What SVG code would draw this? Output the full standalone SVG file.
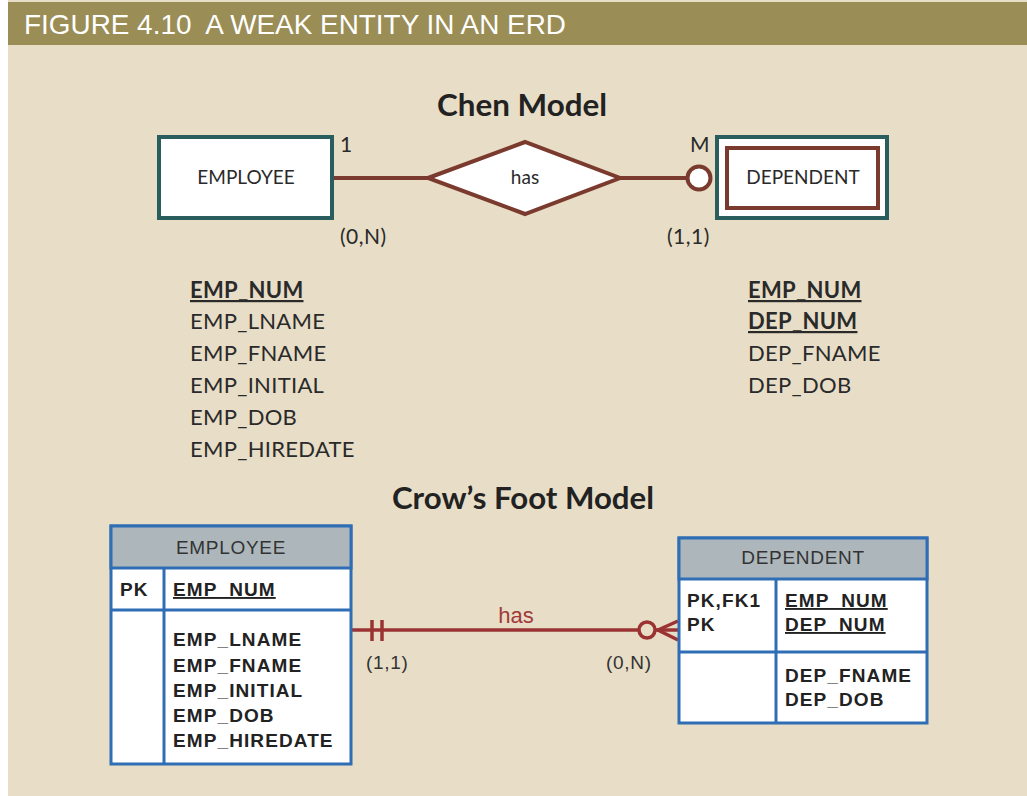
<svg xmlns="http://www.w3.org/2000/svg" width="1027" height="796" viewBox="0 0 1027 796">
<defs>
<style>
.chen{font-family:Lato,"Open Sans","Liberation Sans",sans-serif;fill:#2a2a2a}
.ttl{font-family:Lato,"Liberation Sans",sans-serif;font-weight:bold;fill:#222}
.att{font-family:Lato,"Liberation Sans",sans-serif;font-size:22px;fill:#2a2a2a;letter-spacing:0.3px}
.key{font-weight:bold;text-decoration:underline}
.cf{font-family:"Liberation Sans",Arial,sans-serif;font-weight:bold;font-size:19px;letter-spacing:1.1px;fill:#222}
.cfh{font-family:"Liberation Sans",Arial,sans-serif;font-size:19px;letter-spacing:0.7px;fill:#333}
.tbl{fill:#fff;stroke:#2f6db5;stroke-width:3}
.hdr{fill:#adb7bb;stroke:#2f6db5;stroke-width:3}
.bl{stroke:#2f6db5;stroke-width:3}
.rel{stroke:#7a3b2e;stroke-width:4;fill:none}
.crow{stroke:#9b3333;stroke-width:3.5;fill:none}
</style>
</defs>
<rect x="0" y="0" width="1027" height="796" fill="#ffffff"/>
<rect x="8" y="0" width="1019" height="796" fill="#e8ddc6"/>
<rect x="8" y="2" width="1019" height="43" fill="#9a8d56"/>
<text x="24" y="34" xml:space="preserve" font-family="'Liberation Sans',Arial,sans-serif" font-size="28" fill="#ffffff" textLength="542" lengthAdjust="spacingAndGlyphs">FIGURE 4.10  A WEAK ENTITY IN AN ERD</text>

<text class="ttl" x="522" y="116" font-size="30" text-anchor="middle" textLength="170" lengthAdjust="spacingAndGlyphs">Chen Model</text>

<g id="connectors">
<line class="rel" x1="332" y1="178" x2="430" y2="178"/>
<line class="rel" x1="620" y1="178" x2="687" y2="178"/>
<circle cx="699" cy="178" r="11.5" fill="#fff" stroke="#7a3b2e" stroke-width="4"/>
<line class="crow" x1="352" y1="630" x2="639" y2="630"/>
<line class="crow" x1="372" y1="620" x2="372" y2="641"/>
<line class="crow" x1="382" y1="620" x2="382" y2="641"/>
<circle cx="647" cy="630" r="8" fill="none" stroke="#9b3333" stroke-width="3.5"/>
<polyline class="crow" points="678,621 658,630 678,640"/>
<line class="crow" x1="655" y1="630" x2="678" y2="630"/>
</g>

<g id="chen-employee">
<rect x="159" y="137" width="173" height="81" fill="#fff" stroke="#2a5e5e" stroke-width="4"/>
<text class="chen" x="246" y="184" font-size="19" text-anchor="middle">EMPLOYEE</text>
<text class="chen" x="340" y="152" font-size="21">1</text>
<text class="chen" x="340" y="244" font-size="21" letter-spacing="0.5">(0,N)</text>
</g>

<g id="chen-has">
<polygon points="428,178 525,142 620,178 525,214" fill="#fff" stroke="#7a3b2e" stroke-width="4"/>
<text class="chen" x="525" y="184" font-size="19" text-anchor="middle">has</text>
</g>

<g id="chen-dependent">
<rect x="717" y="137" width="170" height="81" fill="#fff" stroke="#2a5e5e" stroke-width="4"/>
<rect x="727" y="148" width="151" height="60" fill="#fff" stroke="#7a3b2e" stroke-width="4"/>
<text class="chen" x="803" y="184" font-size="19" text-anchor="middle">DEPENDENT</text>
<text class="chen" x="690" y="152" font-size="21">M</text>
<text class="chen" x="667" y="244" font-size="21" letter-spacing="0.5">(1,1)</text>
</g>

<g id="chen-employee-attrs">
<text class="att key" x="190" y="298">EMP_NUM</text>
<text class="att" x="190" y="329">EMP_LNAME</text>
<text class="att" x="190" y="361">EMP_FNAME</text>
<text class="att" x="190" y="393">EMP_INITIAL</text>
<text class="att" x="190" y="425">EMP_DOB</text>
<text class="att" x="190" y="457">EMP_HIREDATE</text>
</g>

<g id="chen-dependent-attrs">
<text class="att key" x="748" y="298">EMP_NUM</text>
<text class="att key" x="748" y="329">DEP_NUM</text>
<text class="att" x="748" y="361">DEP_FNAME</text>
<text class="att" x="748" y="393">DEP_DOB</text>
</g>

<text class="ttl" x="523" y="509" font-size="30" text-anchor="middle" textLength="262" lengthAdjust="spacingAndGlyphs">Crow’s Foot Model</text>

<g id="cf-employee">
<rect class="tbl" x="111" y="526" width="240" height="238"/>
<rect class="hdr" x="111" y="526" width="240" height="42"/>
<line class="bl" x1="111" y1="610" x2="351" y2="610"/>
<line class="bl" x1="164" y1="568" x2="164" y2="764"/>
<text class="cfh" x="231" y="554" text-anchor="middle">EMPLOYEE</text>
<text class="cf" x="120" y="596">PK</text>
<text class="cf" x="173" y="596" text-decoration="underline">EMP_NUM</text>
<text class="cf" x="173" y="646">EMP_LNAME</text>
<text class="cf" x="173" y="672">EMP_FNAME</text>
<text class="cf" x="173" y="697">EMP_INITIAL</text>
<text class="cf" x="173" y="722">EMP_DOB</text>
<text class="cf" x="173" y="747">EMP_HIREDATE</text>
</g>

<g id="cf-has">
<text x="516" y="623" font-family="'Liberation Sans',Arial,sans-serif" font-size="22" fill="#a03a3a" text-anchor="middle">has</text>
<text class="cfh" x="366" y="669" font-size="20" letter-spacing="1.2">(1,1)</text>
<text class="cfh" x="606" y="669" font-size="20" letter-spacing="1.2">(0,N)</text>
</g>

<g id="cf-dependent">
<rect class="tbl" x="679" y="538" width="248" height="185"/>
<rect class="hdr" x="679" y="538" width="248" height="41"/>
<line class="bl" x1="679" y1="652" x2="927" y2="652"/>
<line class="bl" x1="776" y1="579" x2="776" y2="723"/>
<text class="cfh" x="803" y="564" text-anchor="middle">DEPENDENT</text>
<text class="cf" x="687" y="607">PK,FK1</text>
<text class="cf" x="687" y="631">PK</text>
<text class="cf" x="785" y="607" text-decoration="underline">EMP_NUM</text>
<text class="cf" x="785" y="631" text-decoration="underline">DEP_NUM</text>
<text class="cf" x="785" y="682">DEP_FNAME</text>
<text class="cf" x="785" y="706">DEP_DOB</text>
</g>
</svg>
